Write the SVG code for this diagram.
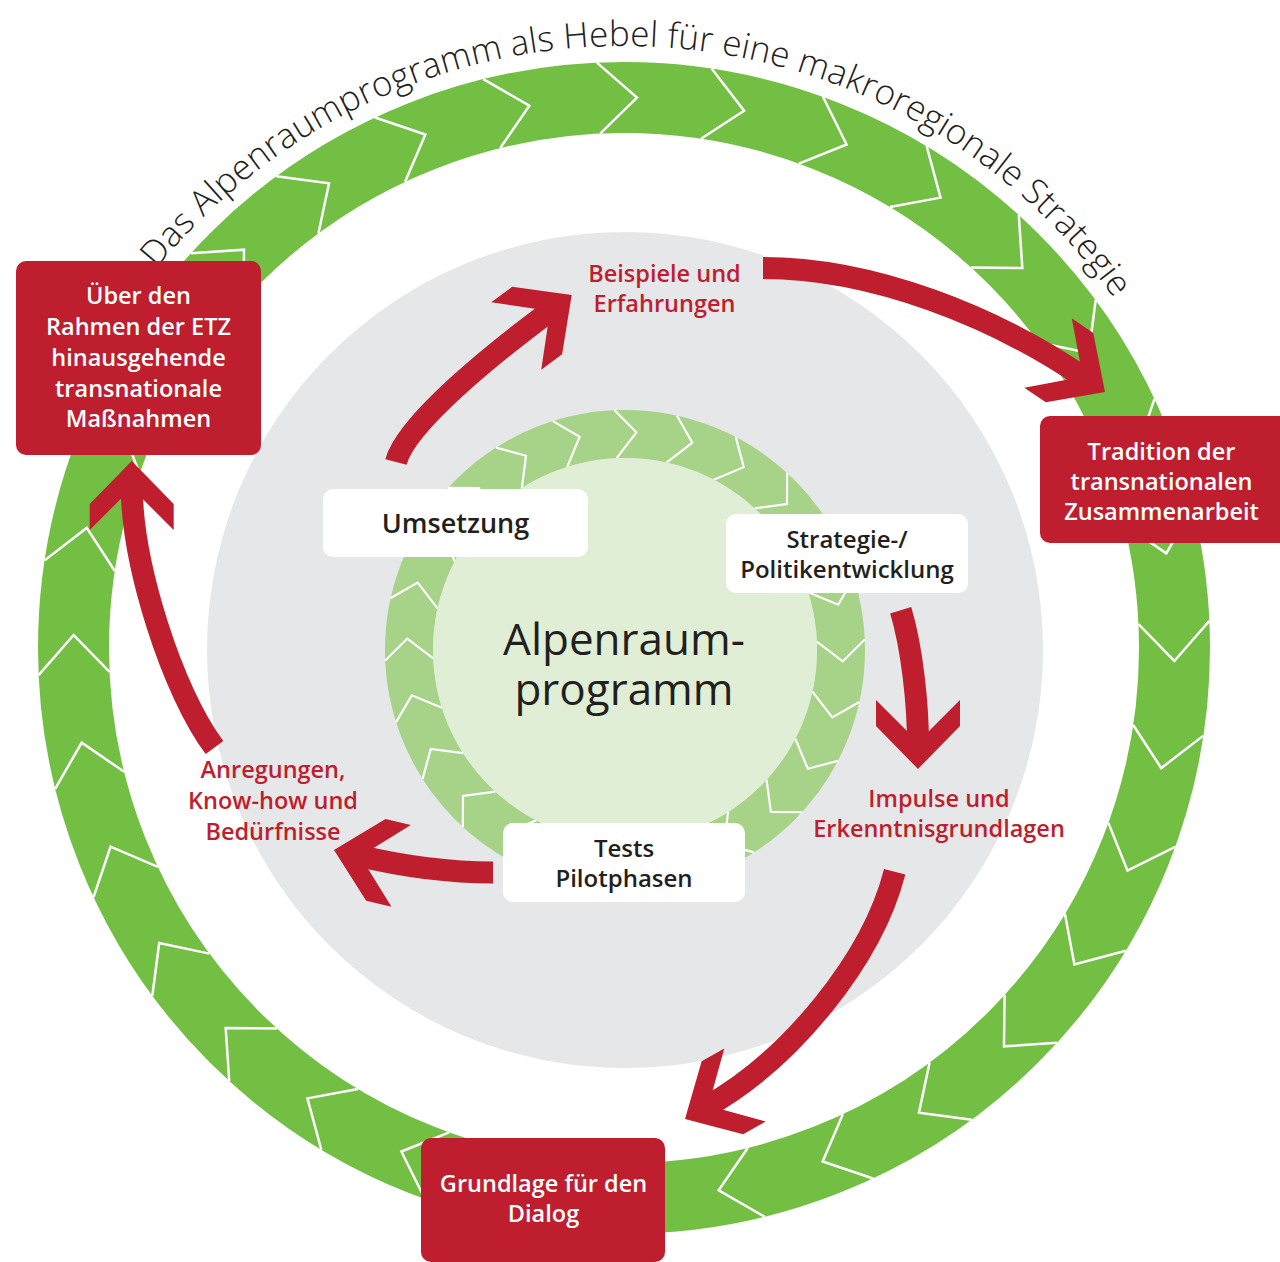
<svg xmlns="http://www.w3.org/2000/svg" xmlns:xlink="http://www.w3.org/1999/xlink" width="1280" height="1262" viewBox="0 0 1280 1262">
<style>
text{font-family:"Open Sans","Noto Sans","Liberation Sans",sans-serif;text-anchor:middle}
.dark{fill:#231f20;font-size:24px;font-weight:600}
.red{fill:#be1e2d;font-size:23.5px;font-weight:600}
.wht{fill:#ffffff;font-size:23.5px;font-weight:600}
.title{fill:#231f20;font-size:35px;font-weight:300;text-anchor:start}
.center{fill:#231f20;font-size:44px;font-weight:500}
.chev{fill:none;stroke:#ffffff;stroke-width:2.5;stroke-linejoin:miter}
.chev2{fill:none;stroke:#ffffff;stroke-width:2.2;stroke-linejoin:miter}
.shaft{fill:none;stroke:#be1e2d;stroke-width:22;stroke-linecap:butt}
.head{fill:#be1e2d}
.redbox{fill:#be1e2d}
.whtbox{fill:#ffffff}
</style>
<defs>
<polyline id="ocv" class="chev" points="583.12,63.43 624,97.5 588.08,134.25"/>
<polyline id="icv" class="chev2" points="602.0,411.1 625,432 606.6,458.9"/>
<path id="ahead" class="head" d="M0,0 L-43,42 L-69,42 L-27,0 L-69,-42 L-43,-42 Z"/>
<path id="titlearc" d="M 102.65 347 A 602 602 0 0 1 1189.7 442.1" fill="none"/>
</defs>
<rect width="1280" height="1262" fill="#ffffff"/>
<g id="outer-ring">
<circle cx="624" cy="648" r="550.5" fill="none" stroke="#72bf44" stroke-width="71"/>
<g id="outer-chevrons">
<use xlink:href="#ocv" transform="rotate(1.35 624 648)"/>
<use xlink:href="#ocv" transform="rotate(12.6 624 648)"/>
<use xlink:href="#ocv" transform="rotate(23.85 624 648)"/>
<use xlink:href="#ocv" transform="rotate(35.1 624 648)"/>
<use xlink:href="#ocv" transform="rotate(46.35 624 648)"/>
<use xlink:href="#ocv" transform="rotate(57.6 624 648)"/>
<use xlink:href="#ocv" transform="rotate(68.85 624 648)"/>
<use xlink:href="#ocv" transform="rotate(80.1 624 648)"/>
<use xlink:href="#ocv" transform="rotate(91.35 624 648)"/>
<use xlink:href="#ocv" transform="rotate(102.6 624 648)"/>
<use xlink:href="#ocv" transform="rotate(113.85 624 648)"/>
<use xlink:href="#ocv" transform="rotate(125.1 624 648)"/>
<use xlink:href="#ocv" transform="rotate(136.35 624 648)"/>
<use xlink:href="#ocv" transform="rotate(147.6 624 648)"/>
<use xlink:href="#ocv" transform="rotate(158.85 624 648)"/>
<use xlink:href="#ocv" transform="rotate(170.1 624 648)"/>
<use xlink:href="#ocv" transform="rotate(181.35 624 648)"/>
<use xlink:href="#ocv" transform="rotate(192.6 624 648)"/>
<use xlink:href="#ocv" transform="rotate(203.85 624 648)"/>
<use xlink:href="#ocv" transform="rotate(215.1 624 648)"/>
<use xlink:href="#ocv" transform="rotate(226.35 624 648)"/>
<use xlink:href="#ocv" transform="rotate(237.6 624 648)"/>
<use xlink:href="#ocv" transform="rotate(248.85 624 648)"/>
<use xlink:href="#ocv" transform="rotate(260.1 624 648)"/>
<use xlink:href="#ocv" transform="rotate(271.35 624 648)"/>
<use xlink:href="#ocv" transform="rotate(282.6 624 648)"/>
<use xlink:href="#ocv" transform="rotate(293.85 624 648)"/>
<use xlink:href="#ocv" transform="rotate(305.1 624 648)"/>
<use xlink:href="#ocv" transform="rotate(316.35 624 648)"/>
<use xlink:href="#ocv" transform="rotate(327.6 624 648)"/>
<use xlink:href="#ocv" transform="rotate(338.85 624 648)"/>
<use xlink:href="#ocv" transform="rotate(350.1 624 648)"/>
</g>
</g>
<g id="title">
<text class="title"><textPath xlink:href="#titlearc" startOffset="95.2" textLength="414" lengthAdjust="spacing">Das Alpenraumprogramm</textPath></text>
<text class="title"><textPath xlink:href="#titlearc" startOffset="518" textLength="535" lengthAdjust="spacing">als Hebel für eine makroregionale</textPath></text>
<text class="title"><textPath xlink:href="#titlearc" startOffset="1061.8" textLength="141" lengthAdjust="spacing">Strategie</textPath></text>
</g>
<g id="gray-disc">
<circle cx="625" cy="650" r="418" fill="#e6e7e8"/>
</g>
<g id="inner-ring">
<circle cx="625" cy="650" r="216" fill="none" stroke="#a6d387" stroke-width="48"/>
<g id="inner-chevrons">
<use xlink:href="#icv" transform="rotate(3 625 650)"/>
<use xlink:href="#icv" transform="rotate(18 625 650)"/>
<use xlink:href="#icv" transform="rotate(33 625 650)"/>
<use xlink:href="#icv" transform="rotate(48 625 650)"/>
<use xlink:href="#icv" transform="rotate(63 625 650)"/>
<use xlink:href="#icv" transform="rotate(78 625 650)"/>
<use xlink:href="#icv" transform="rotate(93 625 650)"/>
<use xlink:href="#icv" transform="rotate(108 625 650)"/>
<use xlink:href="#icv" transform="rotate(123 625 650)"/>
<use xlink:href="#icv" transform="rotate(138 625 650)"/>
<use xlink:href="#icv" transform="rotate(153 625 650)"/>
<use xlink:href="#icv" transform="rotate(168 625 650)"/>
<use xlink:href="#icv" transform="rotate(183 625 650)"/>
<use xlink:href="#icv" transform="rotate(198 625 650)"/>
<use xlink:href="#icv" transform="rotate(213 625 650)"/>
<use xlink:href="#icv" transform="rotate(228 625 650)"/>
<use xlink:href="#icv" transform="rotate(243 625 650)"/>
<use xlink:href="#icv" transform="rotate(258 625 650)"/>
<use xlink:href="#icv" transform="rotate(273 625 650)"/>
<use xlink:href="#icv" transform="rotate(288 625 650)"/>
<use xlink:href="#icv" transform="rotate(303 625 650)"/>
<use xlink:href="#icv" transform="rotate(318 625 650)"/>
<use xlink:href="#icv" transform="rotate(333 625 650)"/>
<use xlink:href="#icv" transform="rotate(348 625 650)"/>
</g>
</g>
<g id="node-center">
<circle cx="625" cy="650" r="192" fill="#dfeed5"/>
<text class="center"><tspan x="624" y="655">Alpenraum-</tspan><tspan x="624" y="705">programm</tspan></text>
</g>
<g id="connectors">
<path class="shaft" d="M396,462 C406,423 496.1,350.9 552.4,309.3"/>
<use xlink:href="#ahead" transform="translate(571.7 295) rotate(-36.5)"/>
<path class="shaft" d="M763,268 C873,268 994.4,316.3 1085.2,378.4"/>
<use xlink:href="#ahead" transform="translate(1105 392) rotate(34.4)"/>
<path class="shaft" d="M900.7,610.3 C912.3,648.7 918,705 918,745"/>
<use xlink:href="#ahead" transform="translate(918 769) rotate(90)"/>
<path class="shaft" d="M894.7,871.7 C872,960 790,1060 705.9,1107.1"/>
<use xlink:href="#ahead" transform="translate(685 1119) rotate(150.4)"/>
<path class="shaft" d="M493,872.5 C448,872.5 401.2,865.9 357.4,855.5"/>
<use xlink:href="#ahead" transform="translate(334 850) rotate(193.3)"/>
<path class="shaft" d="M214.5,747.5 C172.5,691.5 131.7,564.7 131.7,485"/>
<use xlink:href="#ahead" transform="translate(131.7 461) rotate(-90)"/>
</g>
<g id="node-uber">
<rect class="redbox" x="16" y="261" width="245" height="194" rx="10"/>
<text class="wht" x="138.5" y="304">Über den</text>
<text class="wht" x="138.5" y="335">Rahmen der ETZ</text>
<text class="wht" x="138.5" y="366">hinausgehende</text>
<text class="wht" x="138.5" y="397">transnationale</text>
<text class="wht" x="138.5" y="427">Maßnahmen</text>
</g>
<g id="node-tradition">
<rect class="redbox" x="1040" y="416" width="250" height="127" rx="10"/>
<text class="wht" x="1161.5" y="460">Tradition der</text>
<text class="wht" x="1161.5" y="490">transnationalen</text>
<text class="wht" x="1161.5" y="520">Zusammenarbeit</text>
</g>
<g id="node-grundlage">
<rect class="redbox" x="421" y="1138" width="244" height="124" rx="10"/>
<text class="wht" x="543.5" y="1192">Grundlage für den</text>
<text class="wht" x="543.5" y="1222">Dialog</text>
</g>
<g id="node-umsetzung">
<rect class="whtbox" x="323" y="489" width="265" height="68" rx="10"/>
<text class="dark" x="455.5" y="533" style="font-size:27px">Umsetzung</text>
</g>
<g id="node-strategie">
<rect class="whtbox" x="726" y="514" width="242" height="79" rx="10"/>
<text class="dark" x="847" y="548">Strategie-/</text>
<text class="dark" x="847" y="578">Politikentwicklung</text>
</g>
<g id="node-tests">
<rect class="whtbox" x="503" y="823" width="242" height="79" rx="10"/>
<text class="dark" x="624" y="857">Tests</text>
<text class="dark" x="624" y="887">Pilotphasen</text>
</g>
<g id="node-beispiele">
<text class="red" x="664.5" y="282">Beispiele und</text>
<text class="red" x="664.5" y="312">Erfahrungen</text>
</g>
<g id="node-impulse">
<text class="red" x="939" y="807">Impulse und</text>
<text class="red" x="939" y="837">Erkenntnisgrundlagen</text>
</g>
<g id="node-anregungen">
<text class="red" x="273" y="778">Anregungen,</text>
<text class="red" x="273" y="809">Know-how und</text>
<text class="red" x="273" y="840">Bedürfnisse</text>
</g>
</svg>
